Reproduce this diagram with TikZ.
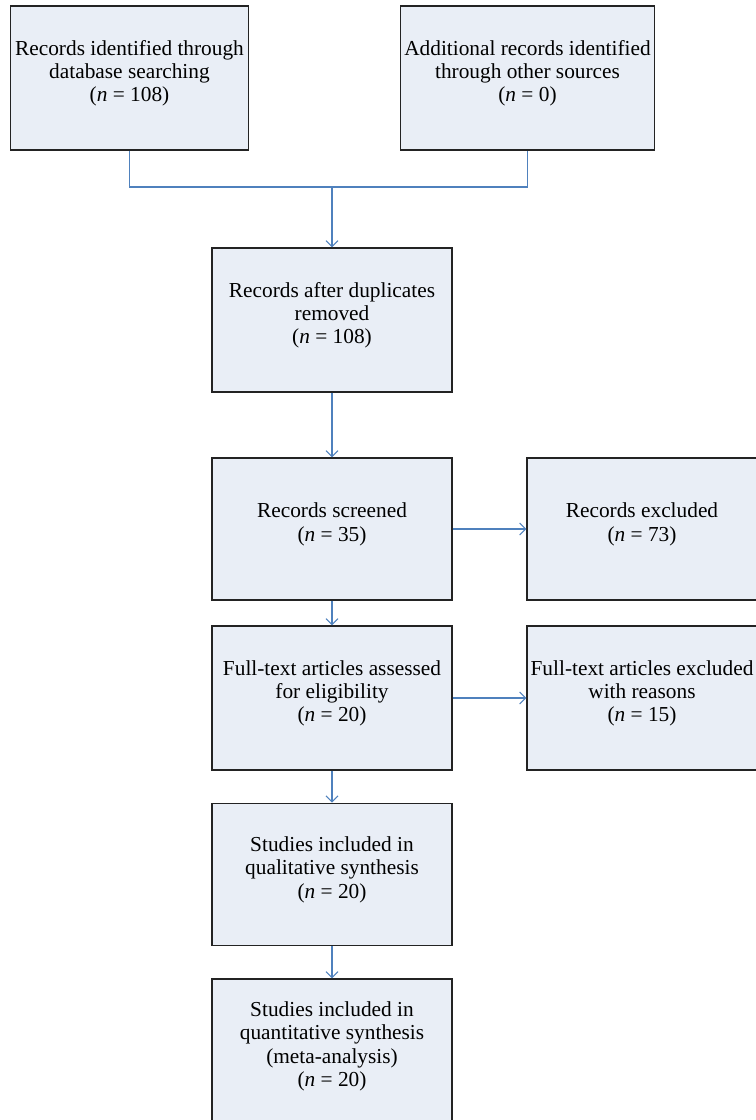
\documentclass[tikz,border=0pt]{standalone}
\usepackage{fontspec}
\setmainfont{Liberation Serif}
\usetikzlibrary{arrows.meta, positioning}
\definecolor{boxfill}{RGB}{233,238,246}
\definecolor{boxline}{RGB}{35,35,35}
\definecolor{linkblue}{RGB}{79,129,189}

\begin{document}
\begin{tikzpicture}[x=0.75pt, y=-0.75pt,
    box/.style={rectangle, draw=boxline, line width=0.9pt, fill=boxfill, minimum width=180pt, minimum height=108pt, inner sep=0pt},
    txt/.style={align=center, font=\fontsize{16}{17.5}\selectfont, yshift=3.5pt},
    link/.style={draw=linkblue, line width=0.8pt},
    arrow/.style={link, -{Straight Barb[length=4.5pt, width=9pt]}}]

    \useasboundingbox (0,0) rectangle (756,1120);

    \node[box, minimum width=179pt, label={[txt]center:{Records identified through\\database searching\\(\textit{n} = 108)}}] (ident) at (129.5,78) {};
    \node[box, minimum width=191pt, label={[txt]center:{Additional records identified\\through other sources\\(\textit{n} = 0)}}] (other) at (527.5,78) {};
    \node[box, label={[txt]center:{Records after duplicates\\removed\\(\textit{n} = 108)}}] (dedup) at (332,320) {};
    \node[box, minimum height=106.5pt, label={[txt]center:{Records screened\\(\textit{n} = 35)}}] (screen) at (332,529) {};
    \node[box, minimum width=172.5pt, minimum height=106.5pt, label={[txt]center:{Records excluded\\(\textit{n} = 73)}}] (excl) at (642,529) {};
    \node[box, label={[txt]center:{Full-text articles assessed\\for eligibility\\(\textit{n} = 20)}}] (full) at (332,698) {};
    \node[box, minimum width=172.5pt, label={[txt]center:{Full-text articles excluded\\with reasons\\(\textit{n} = 15)}}] (fullexcl) at (642,698) {};
    \node[box, minimum height=107pt, label={[txt]center:{Studies included in\\qualitative synthesis\\(\textit{n} = 20)}}] (qual) at (332,874.5) {};
    \node[box, label={[txt]center:{Studies included in\\quantitative synthesis\\(meta-analysis)\\(\textit{n} = 20)}}] (quant) at (332,1051) {};

    % merge of the two sources
    \coordinate (merge) at (332,187);
    \draw[link] (ident.south) |- (merge) -| (other.south);

    \draw[arrow] (merge) -- (dedup);
    \draw[arrow] (dedup) -- (screen);
    \draw[arrow] (screen) -- (excl);
    \draw[arrow] (screen) -- (full);
    \draw[arrow] (full) -- (fullexcl);
    \draw[arrow] (full) -- (qual);
    \draw[arrow] (qual) -- (quant);
\end{tikzpicture}
\end{document}
